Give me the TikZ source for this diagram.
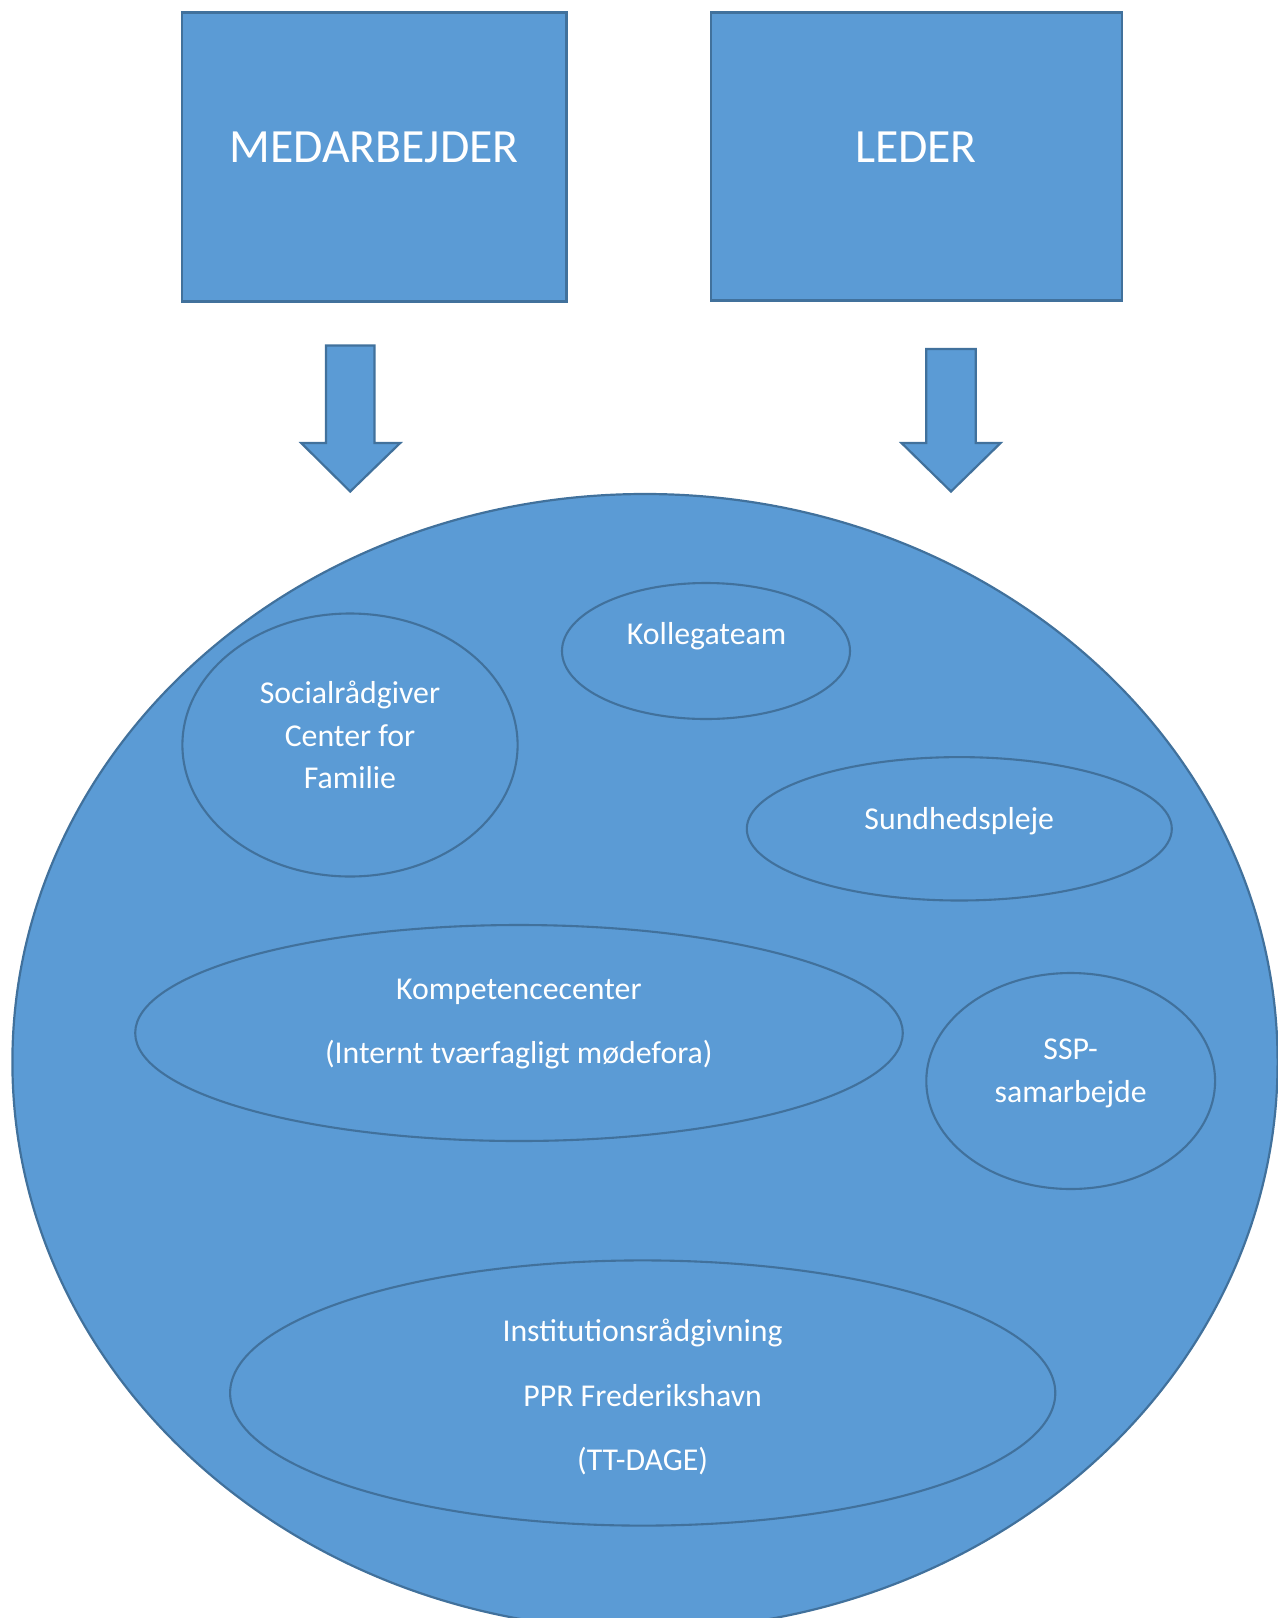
\documentclass[tikz,border=0pt]{standalone}
\usepackage{fontspec}
\setmainfont{Carlito}

\definecolor{boxblue}{HTML}{5B9BD5}
\definecolor{rimblue}{HTML}{41719C}

\def\medbox{(182,12.5) rectangle (566.5,301.5)}
\def\ledbox{(710.7,12.5) rectangle (1122.3,300.5)}
\def\medarrow{(326,345.5) -- (374.4,345.5) -- (374.4,443) -- (400.2,443) -- (350.2,491.5) -- (301.2,443) -- (326,443) -- cycle}
\def\ledarrow{(926.3,349) -- (975.8,349) -- (975.8,443) -- (1000.6,443) -- (951,491.5) -- (901.5,443) -- (926.3,443) -- cycle}
\def\bigring{(645,1062) ellipse [x radius=632.6, y radius=568]}

\tikzset{
  blockfill/.style={fill=boxblue, draw=rimblue, line width=1.1pt},
  bubble/.style={draw=rimblue, line width=1.05pt},
  bigtxt/.style={text=white, font=\fontsize{23.85}{28}\selectfont},
  smalltxt/.style={text=white, align=center, inner sep=0pt, font=\fontsize{15.9}{21.2}\selectfont},
  widetxt/.style={smalltxt, font=\fontsize{15.9}{32.3}\selectfont},
}

\begin{document}
\begin{tikzpicture}[x=0.5pt, y=-0.5pt]
    \useasboundingbox (0,0) rectangle (1278,1618);
    \clip (0,0) rectangle (1278,1618);

    \draw[blockfill] \medbox;
    \draw[blockfill] \ledbox;
    \node[bigtxt] (medarbejder) at (374,147) {MEDARBEJDER};
    \node[bigtxt] (leder) at (916,147) {LEDER};

    \draw[blockfill] \medarrow;
    \draw[blockfill] \ledarrow;

    % the big circle with the fora inside it
    \draw[blockfill] \bigring;

    \draw[bubble] (350,745) ellipse [x radius=167.6, y radius=131.5];
    \draw[bubble] (706,651) ellipse [x radius=144, y radius=68];
    \draw[bubble] (959.3,828.8) ellipse [x radius=212.5, y radius=71.7];
    \draw[bubble] (519,1033) ellipse [x radius=383.8, y radius=108];
    \draw[bubble] (1070.7,1081) ellipse [x radius=144.4, y radius=108];
    \draw[bubble] (642.7,1393) ellipse [x radius=412.6, y radius=132.6];

    \node[smalltxt] (social) at (350,735) {Socialrådgiver\\Center for\\Familie};
    \node[smalltxt] (kollega) at (706.6,636.5) {Kollegateam};
    \node[smalltxt] (sundhed) at (959.3,821.5) {Sundhedspleje};
    \node[widetxt] (kompetence) at (518.8,1024) {Kompetencecenter\\(Internt tværfagligt mødefora)};
    \node[smalltxt] (ssp) at (1070.7,1073.5) {SSP-\\samarbejde};
    \node[widetxt] (institution) at (642.6,1397) {Institutionsrådgivning\\PPR Frederikshavn\\(TT-DAGE)};

\end{tikzpicture}
\end{document}
